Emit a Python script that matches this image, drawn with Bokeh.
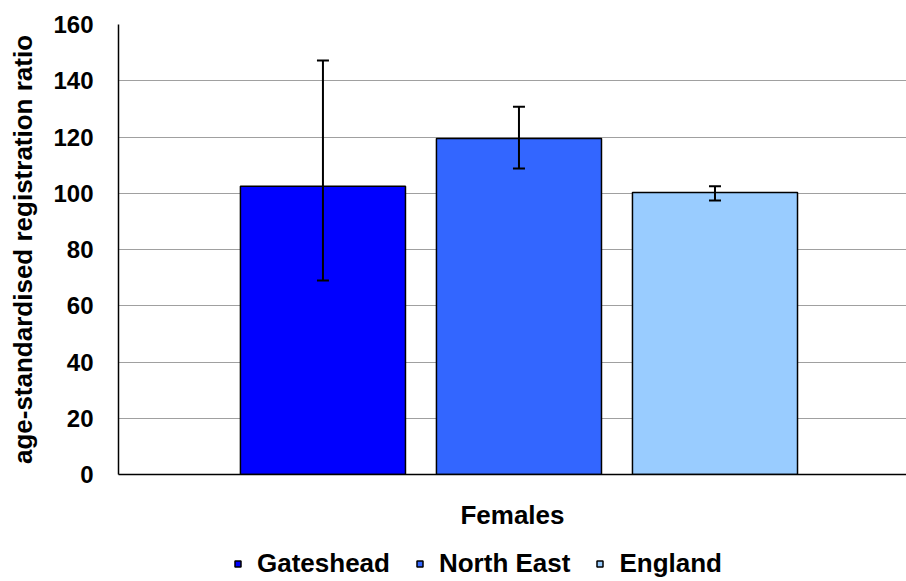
from bokeh.plotting import figure
from bokeh.layouts import column
from bokeh.models import ColumnDataSource, Whisker, Legend, LegendItem, Range1d, FixedTicker, TeeHead
from bokeh.embed import file_html
from bokeh.resources import INLINE

areas = ["Gateshead", "North East", "England"]
ratios = [102.5, 119.5, 100.3]
lower_ci = [69.0, 108.8, 97.4]
upper_ci = [147.2, 130.8, 102.5]
colors = ["#0000FF", "#3366FF", "#99CCFF"]
y_ticks = [0, 20, 40, 60, 80, 100, 120, 140, 160]

FONT = "Liberation Sans"

xs = list(range(len(areas)))
src = ColumnDataSource(dict(x=xs, top=ratios, lower=lower_ci, upper=upper_ci,
                            color=colors, name=areas))

p = figure(frame_width=788, frame_height=450, output_backend="svg", toolbar_location=None,
           x_range=Range1d(-1.043, 2.977), y_range=Range1d(0, 160),
           min_border_left=118, min_border_right=0, min_border_top=24, min_border_bottom=63,
           outline_line_color=None)

bars = p.vbar(x="x", top="top", width=0.842, bottom=0, source=src,
              fill_color="color", line_color="black", line_width=1.5)

wh = Whisker(base="x", lower="lower", upper="upper", source=src,
             line_color="black", line_width=2, level="overlay",
             upper_head=TeeHead(size=12, line_color="black", line_width=2),
             lower_head=TeeHead(size=12, line_color="black", line_width=2))
p.add_layout(wh)

# y axis
p.yaxis.ticker = FixedTicker(ticks=y_ticks)
p.yaxis.axis_label = "age-standardised registration ratio"
p.yaxis.axis_label_text_font = FONT
p.yaxis.axis_label_text_font_style = "bold"
p.yaxis.axis_label_text_font_size = "26px"
p.yaxis.axis_label_text_color = "black"
p.yaxis.axis_label_standoff = 12
p.yaxis.major_label_text_font = FONT
p.yaxis.major_label_text_font_style = "bold"
p.yaxis.major_label_text_font_size = "24px"
p.yaxis.major_label_standoff = 25
p.yaxis.major_label_text_color = "black"
p.yaxis.major_tick_line_color = None
p.yaxis.major_tick_out = 0
p.yaxis.major_tick_in = 0
p.yaxis.minor_tick_line_color = None
p.yaxis.axis_line_color = "black"
p.yaxis.axis_line_width = 1.5

# x axis
p.xaxis.ticker = FixedTicker(ticks=[])
p.xaxis.major_tick_line_color = None
p.xaxis.minor_tick_line_color = None
p.xaxis.axis_line_color = "black"
p.xaxis.axis_line_width = 1.5
p.xaxis.axis_label = "Females"
p.xaxis.axis_label_text_font = FONT
p.xaxis.axis_label_text_font_style = "bold"
p.xaxis.axis_label_text_font_size = "26px"
p.xaxis.axis_label_text_color = "black"
p.xaxis.axis_label_standoff = 25

p.xgrid.grid_line_color = None
p.ygrid.grid_line_color = "#A0A0A0"
p.ygrid.grid_line_width = 1

# legend strip: a second figure holding only the legend
lg = figure(frame_width=906, frame_height=44, output_backend="svg", toolbar_location=None,
            x_range=Range1d(0, 1), y_range=Range1d(1000, 1001),
            x_axis_location=None, y_axis_location=None,
            min_border_left=0, min_border_right=0, min_border_top=0, min_border_bottom=0,
            outline_line_color=None, background_fill_color="white", border_fill_color="white")
lmarks = lg.scatter(x="x", y="top", marker="square", size=15, source=src,
                    fill_color="color", line_color="black", line_width=1.5)
lg.xgrid.grid_line_color = None
lg.ygrid.grid_line_color = None

items = [LegendItem(label=name, renderers=[lmarks], index=i) for i, name in enumerate(areas)]
legend = Legend(items=items, orientation="horizontal", location=(230, 2),
                label_text_font=FONT, label_text_font_style="bold",
                label_text_font_size="26px", label_text_color="black",
                glyph_width=15, glyph_height=15,
                label_standoff=12, spacing=22, border_line_color=None,
                padding=0, margin=0, background_fill_alpha=0)
lg.add_layout(legend)

layout = column(p, lg, spacing=0)
open("out.html", "w").write(file_html(layout, INLINE))
